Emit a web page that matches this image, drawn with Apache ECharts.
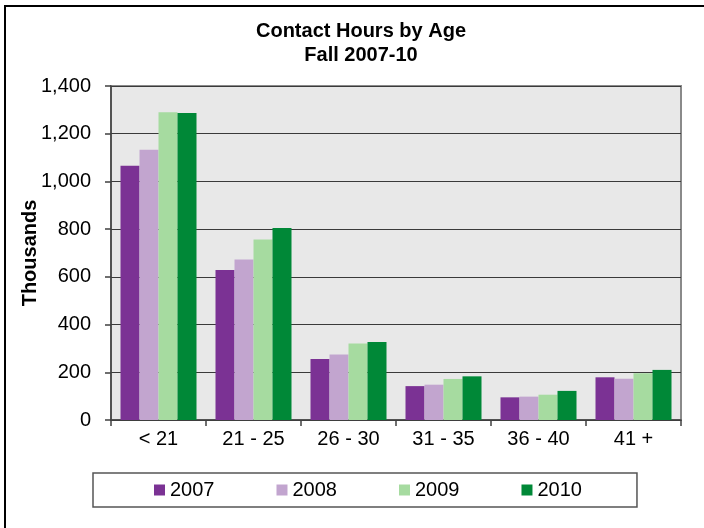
<!DOCTYPE html>
<html>
<head>
<meta charset="utf-8">
<script src="https://cdn.jsdelivr.net/npm/echarts@6/dist/echarts.min.js"></script>
<style>
  html, body { margin: 0; padding: 0; background: #fff; }
  #chart { width: 704px; height: 528px; }
</style>
</head>
<body>
<div id="chart"></div>
<script>
// Age groups along the x axis
const ageGroups = ['< 21', '21 - 25', '26 - 30', '31 - 35', '36 - 40', '41 +'];

// Contact hours (thousands) per fall term
const fall2007 = [1066, 629, 256, 142, 95, 179];
const fall2008 = [1133, 673, 275, 148, 98, 173];
const fall2009 = [1290, 757, 321, 172, 106, 196];
const fall2010 = [1287, 805, 327, 183, 122, 210];

const seriesNames = ['2007', '2008', '2009', '2010'];
const seriesColors = ['#7b3294', '#c2a5cf', '#a6dba0', '#008837'];
const seriesValues = [fall2007, fall2008, fall2009, fall2010];

const FONT = 'Arial, "Liberation Sans", sans-serif';

const chart = echarts.init(document.getElementById('chart'), null, { renderer: 'canvas' });

chart.setOption({
  backgroundColor: '#ffffff',
  animation: false,
  textStyle: { fontFamily: FONT },
  title: {
    text: 'Contact Hours by Age\nFall 2007-10',
    left: 361,
    textAlign: 'center',
    top: 19,
    padding: 0,
    textStyle: {
      fontFamily: FONT,
      fontSize: 20,
      fontWeight: 'bold',
      color: '#000',
      lineHeight: 24
    }
  },
  graphic: [{
    type: 'rect',
    shape: { x: 5, y: 6, width: 740, height: 560 },
    style: { fill: 'none', stroke: '#000', lineWidth: 2 },
    silent: true,
    z: 100
  }],
  legend: {
    data: seriesNames,
    left: 93,
    top: 473,
    orient: 'horizontal',
    itemWidth: 11,
    itemHeight: 11,
    itemGap: 62,
    icon: 'rect',
    padding: [7, 55, 7, 61],
    borderColor: '#555',
    borderWidth: 1.5,
    textStyle: { fontFamily: FONT, fontSize: 20, color: '#000' }
  },
  grid: {
    left: 111,
    right: 23,
    top: 86,
    bottom: 108,
    show: true,
    backgroundColor: '#e8e8e8',
    borderColor: '#8a8a8a',
    borderWidth: 2
  },
  xAxis: {
    type: 'category',
    data: ageGroups,
    axisLine: { show: true, lineStyle: { color: '#404040', width: 1.5 } },
    axisTick: { show: true, length: 6, lineStyle: { color: '#404040', width: 1.5 } },
    axisLabel: { fontFamily: FONT, fontSize: 20, color: '#000', margin: 9 },
    splitLine: { show: false }
  },
  yAxis: {
    type: 'value',
    min: 0,
    max: 1400,
    interval: 200,
    name: 'Thousands',
    nameLocation: 'middle',
    nameRotate: 90,
    nameGap: 71,
    nameMoveOverlap: false,
    nameTextStyle: { fontFamily: FONT, fontSize: 20, fontWeight: 'bold', color: '#000' },
    axisLine: { show: true, lineStyle: { color: '#404040', width: 1.5 } },
    axisTick: { show: true, length: 6, lineStyle: { color: '#404040', width: 1.5 } },
    axisLabel: {
      fontFamily: FONT,
      fontSize: 20,
      color: '#000',
      margin: 20,
      formatter: v => v.toLocaleString('en-US')
    },
    splitLine: { show: true, lineStyle: { color: '#3a3a3a', width: 1.2 } }
  },
  series: seriesNames.map((name, i) => ({
    name,
    type: 'bar',
    data: seriesValues[i],
    barGap: '0%',
    barCategoryGap: '20%',
    itemStyle: { color: seriesColors[i] }
  }))
});
</script>
</body>
</html>
